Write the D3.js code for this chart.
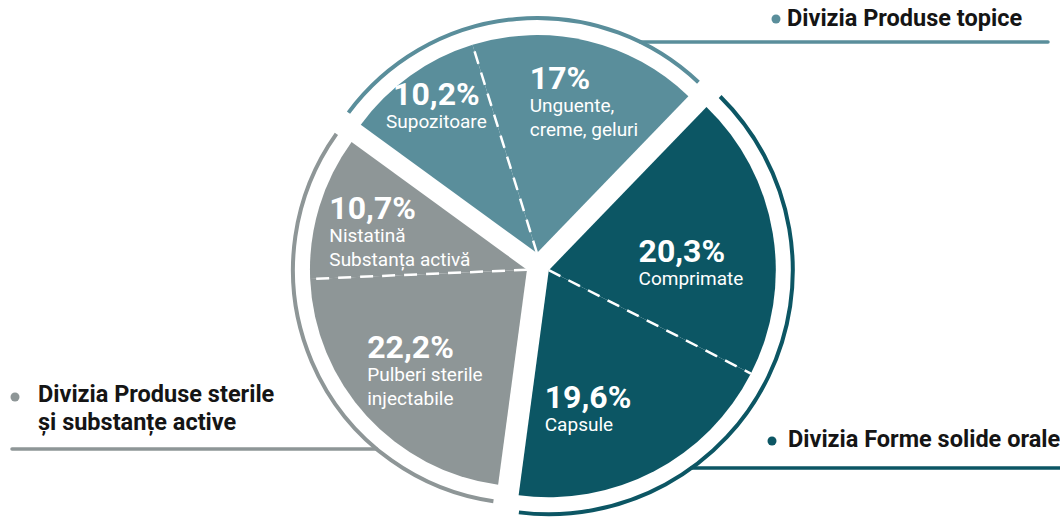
<!DOCTYPE html>
<html>
<head>
<meta charset="utf-8">
<script src="https://cdn.jsdelivr.net/npm/d3@7"></script>
<style>
  body { margin: 0; background: #fff; }
  svg { display: block; font-family: Roboto, "Noto Sans", sans-serif; }
</style>
</head>
<body>
<script>
'use strict';

// date
const diviziiNume = ['Divizia Forme solide orale', 'Divizia Produse sterile', 'Divizia Produse topice']
const diviziiRand2 = ['', 'și substanțe active', '']
const segmente = ['Comprimate', 'Capsule', 'Pulberi sterile injectabile', 'Nistatină Substanța activă', 'Supozitoare', 'Unguente, creme, geluri']
const valori = [20.3, 19.6, 22.2, 10.7, 10.2, 17]
const divizieSegment = [0, 0, 1, 1, 2, 2]
const procente = ['20,3%', '19,6%', '22,2%', '10,7%', '10,2%', '17%']
const etichete = [['Comprimate'], ['Capsule'], ['Pulberi sterile', 'injectabile'], ['Nistatină', 'Substanța activă'], ['Supozitoare'], ['Unguente,', 'creme, geluri']]

// stil
const latime = 1060, inaltime = 517
const centru = {x: 538, y: 265}
const unghiStart = 44 * Math.PI / 180
const culori = ['#0c5664', '#8e9697', '#5a8e9b']
const raze = [227, 217, 218]
const departare = [12, 12, 12]
const unghiEticheta = [86.7, 164.1, 225.5, 286.9, 325.8, 17.2]
const razaEticheta = [142.4, 143.3, 143, 132.8, 179, 159]
const aliniere = ['start', 'start', 'start', 'start', 'middle', 'start']
const fontProcent = 32, fontEticheta = 19
const legenda = [
    {punct: [772, 441], text: [788, 447], linieY: 468, spre: 1060},
    {punct: [15, 397], text: [38, 402], linieY: 449, spre: 12},
    {punct: [776, 19], text: [787, 26], linieY: 42, spre: 1048}
]

const svg = d3.select('body').append('svg')
    .attr('width', latime)
    .attr('height', inaltime)

const felii = d3.pie().sort(null)
    .startAngle(unghiStart)
    .endAngle(unghiStart + 2 * Math.PI)(valori)

const polar = (a, r) => [Math.sin(a) * r, -Math.cos(a) * r]
const rad = g => g * Math.PI / 180

diviziiNume.forEach((nume, d) => {
    const ale = felii.filter((f, i) => divizieSegment[i] === d)
    const a0 = d3.min(ale, f => f.startAngle)
    const a1 = d3.max(ale, f => f.endAngle)
    const [ox, oy] = polar((a0 + a1) / 2, departare[d])
    const cx = centru.x + ox, cy = centru.y + oy
    const r = raze[d]
    const rArc = r + 17

    const g = svg.append('g').attr('transform', `translate(${cx},${cy})`)

    g.selectAll('path.felie').data(ale).enter().append('path')
        .attr('class', 'felie')
        .attr('d', d3.arc().innerRadius(0).outerRadius(r))
        .attr('fill', culori[d])

    // linie punctata intre cele doua segmente
    const [lx, ly] = polar(ale[0].endAngle, r)
    g.append('line')
        .attr('x1', 0).attr('y1', 0).attr('x2', lx).attr('y2', ly)
        .attr('stroke', '#fff')
        .attr('stroke-width', 2.5)
        .attr('stroke-dasharray', '13 9')

    // arc exterior
    const pad = rad(0.6)
    g.append('path')
        .attr('d', d3.arc().innerRadius(rArc).outerRadius(rArc)({startAngle: a0 + pad, endAngle: a1 - pad}))
        .attr('fill', 'none')
        .attr('stroke', culori[d])
        .attr('stroke-width', 4)
        .attr('stroke-linecap', 'round')

    // linia de legatura
    const L = legenda[d]
    const dy = L.linieY - cy
    const dx = Math.sqrt(rArc * rArc - dy * dy)
    const xArc = L.spre > cx ? cx + dx : cx - dx
    svg.append('line')
        .attr('x1', xArc).attr('y1', L.linieY)
        .attr('x2', L.spre).attr('y2', L.linieY)
        .attr('stroke', culori[d])
        .attr('stroke-width', 3.5)
        .attr('stroke-linecap', 'round')

    svg.append('circle')
        .attr('cx', L.punct[0]).attr('cy', L.punct[1])
        .attr('r', 4.5)
        .attr('fill', culori[d])

    const t = svg.append('text')
        .attr('x', L.text[0]).attr('y', L.text[1])
        .attr('font-size', 23.5)
        .attr('font-weight', 700)
        .attr('fill', '#151515')
    t.append('tspan').text(nume)
    if (diviziiRand2[d]) {
        t.append('tspan').attr('x', L.text[0]).attr('dy', 28).text(diviziiRand2[d])
    }

    // etichetele segmentelor
    ale.forEach(f => {
        const i = f.index
        const [px, py] = polar(rad(unghiEticheta[i]), razaEticheta[i])
        const centrat = aliniere[i] === 'middle'
        const txt = g.append('text')
            .attr('fill', '#fff')
            .attr('text-anchor', aliniere[i])
        txt.append('tspan')
            .attr('x', 0).attr('y', 0)
            .attr('font-size', fontProcent)
            .attr('font-weight', 700)
            .text(procente[i])
        etichete[i].forEach((rand, k) => {
            txt.append('tspan')
                .attr('x', 0)
                .attr('dy', k === 0 ? 22.5 : 24)
                .attr('font-size', fontEticheta)
                .text(rand)
        })
        const box = txt.node().getBBox()
        const ultim = 22.5 + (etichete[i].length - 1) * 24
        const mijlocY = (-0.711 * fontProcent + ultim) / 2
        const tx = centrat ? px : px - box.width / 2 - box.x
        txt.attr('transform', `translate(${tx},${py - mijlocY})`)
    })
})
</script>
</body>
</html>
